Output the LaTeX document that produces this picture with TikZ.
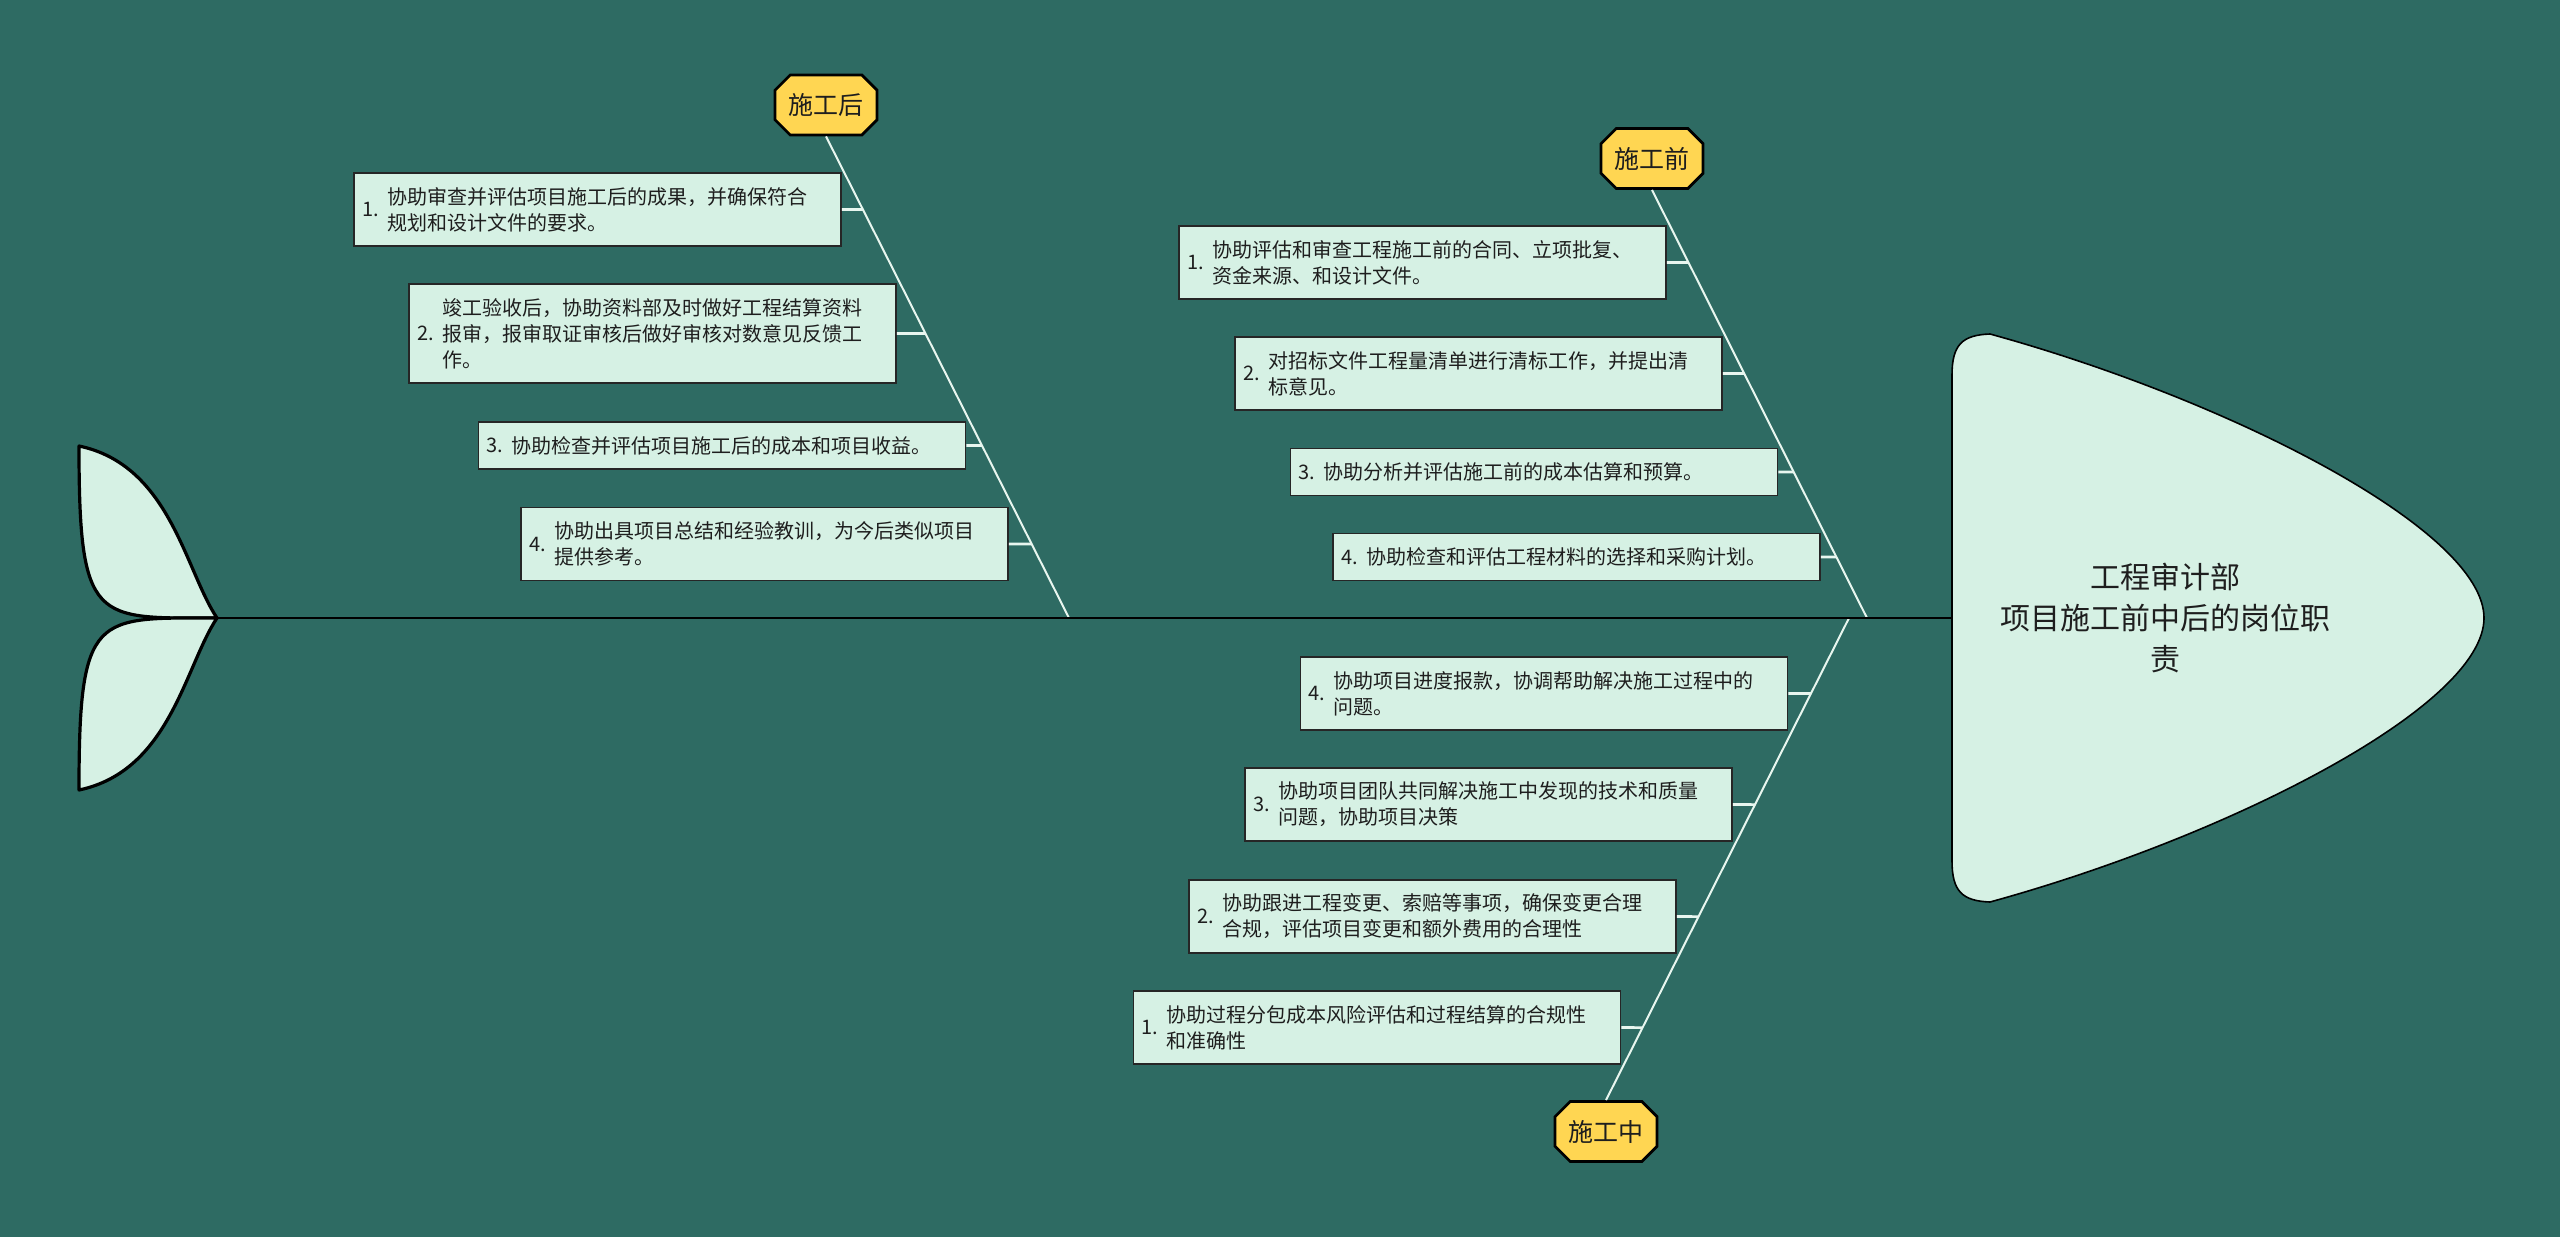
\documentclass[tikz,border=0pt]{standalone}
\usepackage{fontspec}
\setmainfont{Noto Sans CJK SC}
\usetikzlibrary{shapes.misc}
\definecolor{bg}{RGB}{46,107,99}
\definecolor{mint}{RGB}{214,241,228}
\definecolor{bonec}{RGB}{232,246,239}
\definecolor{lab}{RGB}{255,214,82}
\definecolor{txt}{RGB}{30,30,30}
\newcommand{\itm}[2]{\parbox[c]{12.5pt}{#1}\parbox[c]{223pt}{#2}}
\begin{document}
\begin{tikzpicture}[x=0.5pt,y=-0.5pt,
  itembox/.style={draw=black!85, line width=0.9pt, fill=mint, minimum width=243.5pt,
    inner xsep=4pt, inner ysep=0pt, text=txt, font=\fontsize{10pt}{13pt}\selectfont},
  hone/.style={itembox, minimum height=23.5pt},
  htwo/.style={itembox, minimum height=36.5pt},
  hthree/.style={itembox, minimum height=49.5pt},
  labelbox/.style={chamfered rectangle, chamfered rectangle xsep=4pt, draw=black,
    line width=1.4pt, fill=lab, minimum width=51pt, minimum height=30pt, inner sep=0pt,
    text=txt, font=\fontsize{12.5pt}{15pt}\selectfont},
  bone/.style={draw=bonec, line width=1pt},
  conn/.style={draw=bonec, line width=1.3pt},
  spine/.style={draw=black, line width=1.3pt},
  leaf/.style={draw=black, line width=1.6pt, fill=mint, line join=round},
  headshape/.style={draw=black, line width=0.8pt, fill=mint}
]
\useasboundingbox (0,0) rectangle (2560,1237);
\fill[bg] (0,0) rectangle (2560,1237);

% spine points
\coordinate (sA) at (1069,618);
\coordinate (sB) at (1867,618);
\coordinate (sC) at (1849,618);
\coordinate (tt) at (217,618);
\coordinate (hd) at (1952,618);

% labels
\node[labelbox] (La) at (826,105) {施工后};
\node[labelbox] (Lb) at (1652,158.5) {施工前};
\node[labelbox] (Lc) at (1606,1131.5) {施工中};

% bones
\draw[bone] (La.south) -- (sA);
\draw[bone] (Lb.south) -- (sB);
\draw[bone] (sC) -- (Lc.north);

% items: after construction
\node[htwo] (a1) at (597.5,209.5) {\itm{1.}{协助审查并评估项目施工后的成果，并确保符合\\规划和设计文件的要求。}};
\node[hthree] (a2) at (652.5,333.5) {\itm{2.}{竣工验收后，协助资料部及时做好工程结算资料\\报审，报审取证审核后做好审核对数意见反馈工\\作。}};
\node[hone] (a3) at (722,445.5) {\itm{3.}{协助检查并评估项目施工后的成本和项目收益。}};
\node[htwo] (a4) at (764.5,544) {\itm{4.}{协助出具项目总结和经验教训，为今后类似项目\\提供参考。}};

% items: before construction
\node[htwo] (b1) at (1422.5,262.5) {\itm{1.}{协助评估和审查工程施工前的合同、立项批复、\\资金来源、和设计文件。}};
\node[htwo] (b2) at (1478.5,373.5) {\itm{2.}{对招标文件工程量清单进行清标工作，并提出清\\标意见。}};
\node[hone] (b3) at (1534,472) {\itm{3.}{协助分析并评估施工前的成本估算和预算。}};
\node[hone] (b4) at (1576.5,557) {\itm{4.}{协助检查和评估工程材料的选择和采购计划。}};

% items: during construction
\node[htwo] (c4) at (1544,693.5) {\itm{4.}{协助项目进度报款，协调帮助解决施工过程中的\\问题。}};
\node[htwo] (c3) at (1488.5,804.5) {\itm{3.}{协助项目团队共同解决施工中发现的技术和质量\\问题，协助项目决策}};
\node[htwo] (c2) at (1432.5,916.5) {\itm{2.}{协助跟进工程变更、索赔等事项，确保变更合理\\合规，评估项目变更和额外费用的合理性}};
\node[htwo] (c1) at (1377,1027.5) {\itm{1.}{协助过程分包成本风险评估和过程结算的合规性\\和准确性}};

% connectors
\foreach \n in {a1,a2,a3,a4}
  \draw[conn] (\n.east) -- (intersection of \n.west--\n.east and La.south--sA);
\foreach \n in {b1,b2,b3,b4}
  \draw[conn] (\n.east) -- (intersection of \n.west--\n.east and Lb.south--sB);
\foreach \n in {c1,c2,c3,c4}
  \draw[conn] (\n.east) -- (intersection of \n.west--\n.east and Lc.north--sC);

% spine
\draw[spine] (tt) -- (hd);

% head
\draw[headshape] (1952,861) -- (1952,375)
  .. controls (1952,345) and (1962,335) .. (1990,334)
  .. controls (2230,400) and (2484,530) .. (2484,618)
  .. controls (2484,706) and (2230,836) .. (1990,902)
  .. controls (1962,901) and (1952,891) .. (1952,861) -- cycle;
\node[align=center, text=txt, font=\fontsize{15pt}{20.5pt}\selectfont] (head) at (2165,618)
  {工程审计部\\项目施工前中后的岗位职\\责};

% tail
\draw[leaf] (tt) .. controls (185,570) and (170,465) .. (79,446)
  .. controls (79,625) and (95,618) .. (tt) -- cycle;
\draw[leaf] (tt) .. controls (185,666) and (170,771) .. (79,790)
  .. controls (79,611) and (95,618) .. (tt) -- cycle;
\end{tikzpicture}
\end{document}
